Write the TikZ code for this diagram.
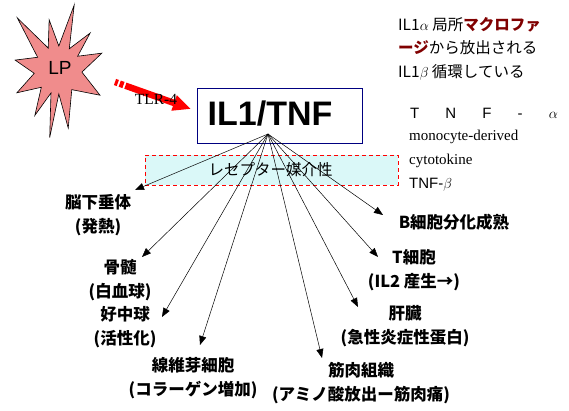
\documentclass[tikz,border=0pt]{standalone}
\usepackage{fontspec}
\setmainfont{Liberation Serif}
\setsansfont{Liberation Sans}
\newfontfamily\jp{Noto Sans CJK JP}
\usetikzlibrary{arrows.meta}
\definecolor{starpink}{RGB}{240,140,140}
\definecolor{rcpcyan}{RGB}{218,248,248}
\definecolor{macro}{RGB}{128,0,0}
\definecolor{boxnavy}{RGB}{0,0,128}

\begin{document}
\begin{tikzpicture}[x=1pt, y=-1pt, every node/.style={inner sep=0pt},
  target/.style={font=\jp\bfseries\fontsize{16.5}{24}\selectfont, align=center},
  effect/.style={-{Triangle[length=9pt,width=7pt]}, line width=0.5pt}]
  \useasboundingbox (0,0) rectangle (569,411);

  % LP burst
  \begin{scope}[shift={(58,70)}]
    \draw[fill=starpink, line width=0.6pt] (-128:66) -- (-114:24) -- (-100:51) -- (-88:24)
      -- (-76:67) -- (-62:24) -- (-49:49) -- (-35:24) -- (-21:47) -- (5:24)
      -- (31:49) -- (55:24) -- (80:59) -- (88:24) -- (97:68) -- (107:24)
      -- (117:51) -- (134:24) -- (151:47) -- (172:24) -- (193:44) -- (212:24) -- cycle;
  \end{scope}
  \node[font=\sffamily\fontsize{19}{19}\selectfont] (lp) at (60,68) {LP};

  % cytokine box and receptor band
  \node[draw=boxnavy, fill=white, line width=0.6pt, minimum width=165pt, minimum height=55pt] (cyto) at (279.5,115.5) {};
  \node[font=\sffamily\bfseries\fontsize{34}{34}\selectfont] (cytotxt) at (270,114) {IL1/TNF};
  \node[draw=red, dash pattern=on 4pt off 3pt, fill=rcpcyan, line width=0.6pt, minimum width=253pt, minimum height=30pt] (rcp) at (271.5,170) {};

  % TLR-4 arrow
  \coordinate (tlrS) at (115,82);
  \coordinate (tlrE) at (191,109);
  \draw[red, line width=6.5pt, -{Triangle[length=18pt,width=15pt]},
    dash pattern=on 3pt off 2pt on 4pt off 2pt on 300pt] (tlrS) -- (tlrE);
  \node[font=\fontsize{15.5}{15.5}\selectfont] (tlr) at (156,99) {TLR-4};

  % targets
  \node[target] (pit) at (98,215) {脳下垂体\\(発熱)};
  \node[target] (marrow) at (120,280) {骨髄\\(白血球)};
  \node[target] (neut) at (125,327) {好中球\\(活性化)};
  \node[target] (fibro) at (193,378) {線維芽細胞\\(コラーゲン増加)};
  \node[target] (muscle) at (361,383) {筋肉組織\\(アミノ酸放出ー筋肉痛)};
  \node[target] (liver) at (405,326) {肝臓\\(急性炎症性蛋白)};
  \node[target] (tcell) at (414,270) {T細胞\\(IL2 産生→)};
  \node[target] (bcell) at (454,222) {B細胞分化成熟};

  % arrow tips
  \coordinate (hub) at (268,134);
  \coordinate (pitT) at (135,190);
  \coordinate (marrowT) at (142,257);
  \coordinate (neutT) at (162,317);
  \coordinate (fibroT) at (200,345);
  \coordinate (muscleT) at (322,358);
  \coordinate (liverT) at (358,307);
  \coordinate (tcellT) at (378,257);
  \coordinate (bcellT) at (383,215);
  \foreach \tip in {pitT, marrowT, neutT, fibroT, muscleT, liverT, tcellT, bcellT}
    \draw[effect] (hub) -- (\tip);
  \node[font=\jp\fontsize{15.5}{15.5}\selectfont] (rcptxt) at (270.5,170) {レセプター媒介性};

  % notes
  \node[anchor=west, align=left, font=\jp\fontsize{15.5}{23.5}\selectfont] (il1note) at (398,48.5)
    {IL1$\alpha$ 局所{\bfseries\color{macro}マクロファ}\\{\bfseries\color{macro}ージ}から放出される\\IL1$\beta$ 循環している};
  \node[font=\sffamily\fontsize{15}{15}\selectfont] (tnfa) at (484,113) {\makebox[148pt][s]{T N F - $\alpha$}};
  \node[anchor=west, font=\fontsize{15}{15}\selectfont] (mono) at (409,137) {monocyte-derived};
  \node[anchor=west, font=\fontsize{15}{15}\selectfont] (cyto2) at (409,161) {cytotokine};
  \node[anchor=west, font=\sffamily\fontsize{15}{15}\selectfont] (tnfb) at (409,185) {TNF-$\beta$};
\end{tikzpicture}
\end{document}
